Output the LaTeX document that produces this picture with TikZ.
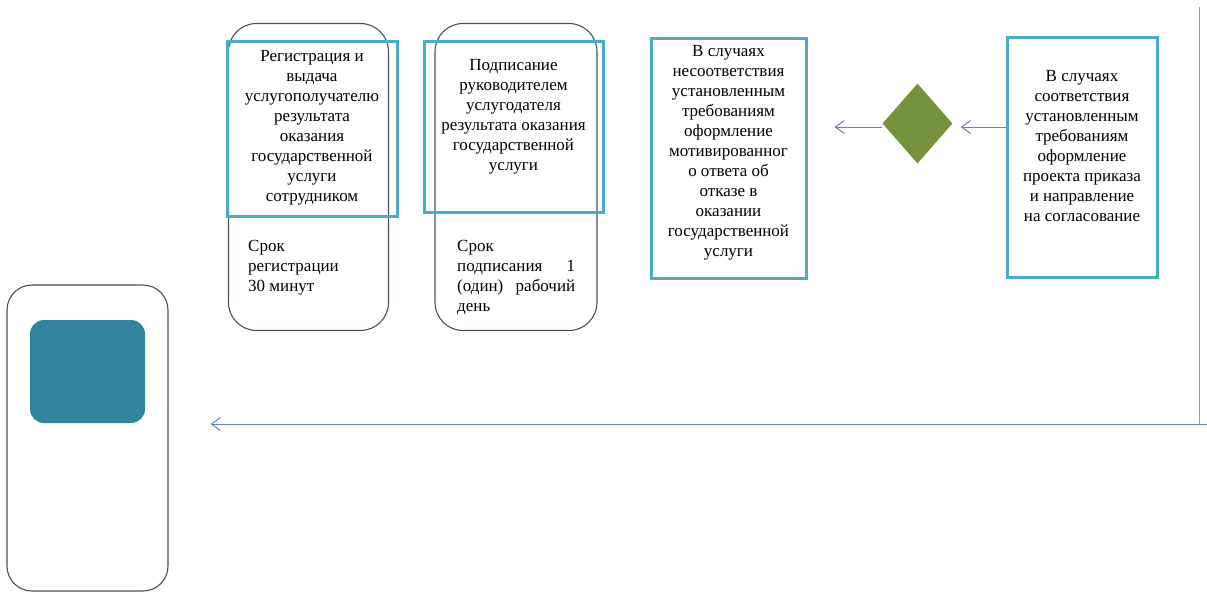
\documentclass[tikz,border=0pt]{standalone}
\usepackage{fontspec}
\setmainfont{Liberation Serif}
\usetikzlibrary{arrows.meta,shapes.geometric}
\definecolor{tealline}{RGB}{75,172,198}
\definecolor{tealfill}{RGB}{49,132,155}
\definecolor{frame}{RGB}{70,80,100}
\definecolor{arr}{RGB}{100,130,190}
\definecolor{olive}{RGB}{118,146,60}
\begin{document}
\begin{tikzpicture}[x=1pt,y=-1pt,
  every node/.style={inner sep=0pt, font=\fontsize{17}{20}\selectfont},
  lane/.style={draw=frame, line width=1.1pt, rounded corners=28pt},
  stepbox/.style={draw=tealline, line width=3pt, align=center},
  arrowline/.style={draw=arr, line width=1pt, -{Straight Barb[length=9pt,width=13pt]}},
  plainline/.style={draw=arr!80, line width=1pt}]
\useasboundingbox (0,0) rectangle (1207,592);

% outer rounded lanes
\node[lane, minimum width=160pt, minimum height=307pt] (lane1) at (308.5,177) {};
\node[lane, minimum width=162pt, minimum height=307pt] (lane2) at (516,177) {};
\node[lane, minimum width=161pt, minimum height=306pt, rounded corners=25pt] (big) at (87.5,438) {};
\node[fill=tealfill, rounded corners=14pt, minimum width=115pt, minimum height=103pt] (bigfill) at (87.5,371.5) {};

% teal step boxes
\node[stepbox, minimum width=170pt, minimum height=175pt] (s1) at (312,128.5) {};
\node[align=center] (s1t) at (312,127.5) {Регистрация и\\выдача\\услугополучателю\\результата\\оказания\\государственной\\услуги\\сотрудником};

\node[stepbox, minimum width=179pt, minimum height=171pt] (s2) at (513.5,126.5) {};
\node[align=center] (s2t) at (513.5,117) {Подписание\\руководителем\\услугодателя\\результата оказания\\государственной\\услуги};

\node[stepbox, minimum width=155pt, minimum height=240pt] (s3) at (728.5,158) {};
\node[align=center] (s3t) at (728.5,152.5) {В случаях\\несоответствия\\установленным\\требованиям\\оформление\\мотивированног\\о ответа об\\отказе в\\оказании\\государственной\\услуги};

\node[stepbox, minimum width=150pt, minimum height=240pt] (s4) at (1082,157) {};
\node[align=center] (s4t) at (1082,146) {В случаях\\соответствия\\установленным\\требованиям\\оформление\\проекта приказа\\и направление\\на согласование};

% bottom texts of lanes
\node[align=left, anchor=west] (t1) at (248,268) {Срок\\регистрации\\30 минут};
\node[anchor=west, text width=118pt, align=left] (t2) at (457,277.5) {Срок\\подписания\hfill 1\\(один)\hfill рабочий\\день};

% decision
\node[diamond, fill=olive, minimum width=70pt, minimum height=80pt] (dia) at (917.5,123.5) {};

% connectors
\draw[arrowline, shorten >=8pt] (s4.west |- 0,127) -- (dia.east |- 0,127);
\draw[arrowline, shorten >=27pt] (dia.west |- 0,127) -- (s3.east |- 0,127);

\coordinate (top) at (1199,7);
\coordinate (corner) at (1199,424);
\coordinate (rend) at (1207,424);
\draw[plainline] (top) -- (corner);
\draw[arrowline, shorten >=42pt] (rend) -- (big.east |- corner);
\end{tikzpicture}
\end{document}
